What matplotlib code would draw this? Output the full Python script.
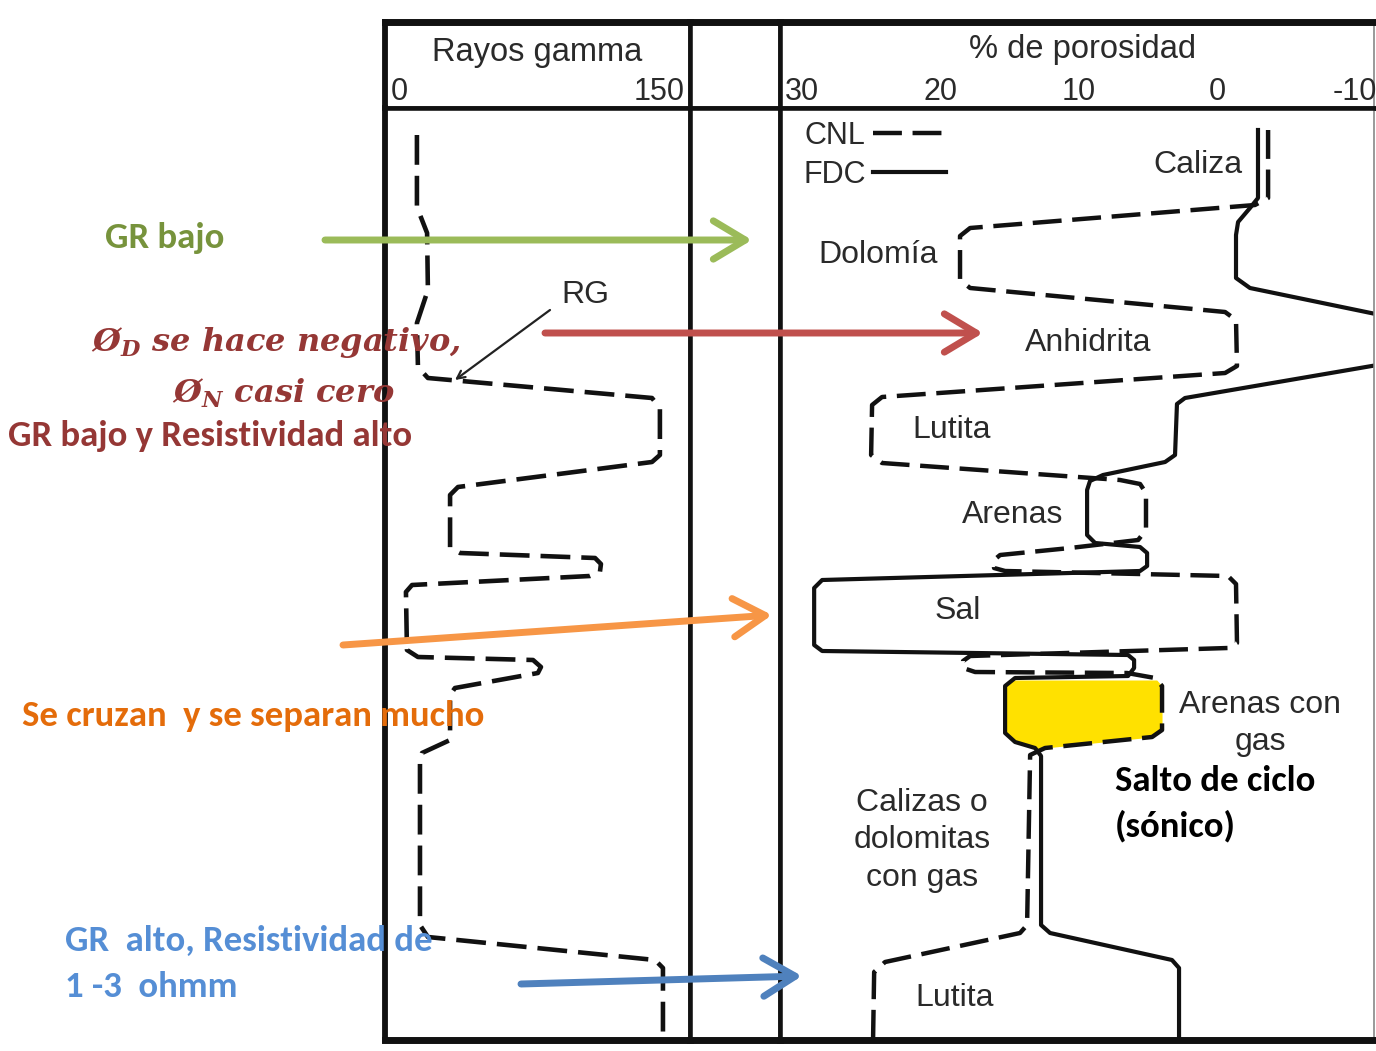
import numpy as np
import matplotlib
matplotlib.use("Agg")
import matplotlib.pyplot as plt

plt.rcParams['mathtext.fontset'] = 'custom'
plt.rcParams['mathtext.it'] = 'DejaVu Serif:italic:bold'
plt.rcParams['mathtext.rm'] = 'DejaVu Serif:bold'
plt.rcParams['mathtext.default'] = 'it'

# Rayos gamma (API) contra profundidad relativa
gr_depth = [27, 99, 125, 182, 215, 259, 270, 290, 300, 347, 354, 379, 387, 440, 445, 450,
            456, 464, 468, 477, 484, 542, 549, 552, 559, 565, 580, 587, 632, 645, 652, 817,
            829, 852, 860, 932]
gr_api = [15.7, 15.7, 20.7, 21.1, 15.7, 16.2, 21.1, 131.3, 135.2, 135.2, 131.3, 35.9, 32.0,
          32.0, 36.9, 103.3, 106.2, 105.7, 100.8, 13.3, 10.3, 10.8, 16.2, 72.8, 76.7, 75.2,
          34.4, 32.0, 32.0, 18.2, 17.2, 17.2, 21.1, 132.8, 136.7, 136.7]

# porosidad densidad (FDC) y neutron (CNL), %
fdc_depth = [22, 90, 100, 114, 127, 170, 180, 210, 254, 290, 296, 347, 354, 367, 373, 382,
             427, 435, 439, 445, 458, 463, 472, 480, 537, 543, 547, 552, 560, 568, 570, 578,
             625, 634, 640, 648, 817, 825, 852, 860, 932]
fdc_por = [-2.97, -2.97, -2.39, -1.53, -1.38, -1.38, -2.39, -12.88, -12.88, 2.31, 2.89, 3.03,
           3.75, 8.24, 9.18, 9.39, 9.39, 8.81, 5.56, 5.05, 5.05, 5.56, 28.55, 29.13, 29.13,
           28.55, 6.43, 5.99, 5.99, 6.43, 14.60, 15.32, 15.32, 14.60, 13.15, 12.72, 12.72,
           12.07, 3.25, 2.74, 2.74]
cnl_depth = [22, 90, 97, 120, 128, 172, 180, 204, 212, 258, 265, 289, 297, 347, 355, 372,
             376, 385, 422, 432, 440, 447, 452, 460, 463, 468, 476, 535, 540, 548, 553, 560,
             564, 565, 570, 578, 622, 629, 640, 647, 817, 825, 854, 864, 932]
cnl_por = [-3.70, -3.70, -2.75, 17.85, 18.58, 18.58, 17.85, -0.59, -1.38, -1.45, -0.59, 24.22,
           24.94, 25.01, 24.22, 7.01, 5.56, 5.13, 5.13, 5.70, 10.62, 15.68, 16.12, 16.12,
           15.32, -0.80, -1.38, -1.45, -0.80, 17.85, 18.36, 18.36, 17.49, 6.50, 4.48, 3.97,
           3.97, 4.69, 12.43, 13.51, 13.73, 14.24, 24.00, 24.79, 24.87]

gas_top, gas_base = 572, 641
por_ticks = [30, 20, 10, 0, -10]

W, H = 1376, 1051
fig = plt.figure(figsize=(W / 100, H / 100), dpi=100)


def box(x0, x1, y0, y1):
    return [x0 / W, 1 - y1 / H, (x1 - x0) / W, (y1 - y0) / H]


TOP, HB, BOT = 22, 108, 1040
ax_gr_h = fig.add_axes(box(385, 690, TOP, HB))
ax_mid_h = fig.add_axes(box(690, 780, TOP, HB))
ax_por_h = fig.add_axes(box(780, 1374, TOP, HB))
ax_gr = fig.add_axes(box(385, 690, HB, BOT))
ax_mid = fig.add_axes(box(690, 780, HB, BOT))
ax_por = fig.add_axes(box(780, 1374, HB, BOT))

for ax in [ax_gr_h, ax_mid_h, ax_por_h, ax_gr, ax_mid, ax_por]:
    ax.set_xticks([])
    ax.set_yticks([])
    for sp in ax.spines.values():
        sp.set_linewidth(3.3)
        sp.set_color('#111111')
for ax in [ax_gr_h, ax_mid_h, ax_por_h]:
    ax.spines['top'].set_linewidth(5)
    ax.set_ylim(0, 1)
for ax in [ax_gr, ax_mid, ax_por]:
    ax.spines['bottom'].set_linewidth(5)
    ax.set_ylim(932, 0)
ax_gr.spines['left'].set_linewidth(4.2)
ax_gr_h.spines['left'].set_linewidth(4.2)
for ax in [ax_por, ax_por_h]:
    ax.spines['right'].set_linewidth(1.2)
    ax.spines['right'].set_color('#888888')

ax_gr.set_xlim(0, 150)
ax_gr_h.set_xlim(0, 150)
ax_por.set_xlim(31.6, -11.36)
ax_por_h.set_xlim(31.6, -11.36)

scan_font = ['Liberation Sans Narrow', 'Liberation Sans']
gray = '#2a2a2a'
dash = (0, (6.5, 2.4))

ax_gr.plot(gr_api, gr_depth, color='#111111', lw=3.3, linestyle=dash)
ax_por.plot(cnl_por, cnl_depth, color='#111111', lw=3.2, linestyle=dash, label='CNL')
ax_por.plot(fdc_por, fdc_depth, color='#111111', lw=3.0, solid_joinstyle='round', label='FDC')

d = np.linspace(gas_top, gas_base, 120)
ax_por.fill_betweenx(d, np.interp(d, fdc_depth, fdc_por), np.interp(d, cnl_depth, cnl_por),
                     color='#FFE100', zorder=1, lw=0)

leg = ax_por.legend(loc='upper left', bbox_to_anchor=(803 / W, 1 - 121 / H),
                    bbox_transform=fig.transFigure, frameon=False, markerfirst=False,
                    handlelength=2.4, handletextpad=0.25, labelspacing=0.3,
                    borderpad=0, borderaxespad=0,
                    prop={'family': scan_font, 'size': 22})
for t in leg.get_texts():
    t.set_color(gray)

# encabezados
ax_gr_h.text(0.5, 0.64, 'Rayos gamma', transform=ax_gr_h.transAxes, ha='center', va='center',
             fontsize=23.5, family=scan_font, color=gray)
ax_gr_h.text(3, 0.19, '0', ha='left', va='center', fontsize=22, family=scan_font, color=gray)
ax_gr_h.text(147.5, 0.19, '150', ha='right', va='center', fontsize=22, family=scan_font, color=gray)
ax_por_h.text(0.51, 0.68, '% de porosidad', transform=ax_por_h.transAxes, ha='center',
              va='center', fontsize=23.5, family=scan_font, color=gray)
for v in por_ticks:
    ax_por_h.text(v, 0.19, str(v), ha='center', va='center', fontsize=22, family=scan_font,
                  color=gray)

# capa de anotaciones
ov = fig.add_axes([0, 0, 1, 1])
ov.set_xlim(0, W)
ov.set_ylim(H, 0)
ov.axis('off')
ov.patch.set_alpha(0)

lith = [('Caliza', 1198, 165), ('Dolomía', 878, 255), ('Anhidrita', 1088, 343),
        ('Lutita', 952, 430), ('Arenas', 1013, 515), ('Sal', 958, 611),
        ('Arenas con', 1260, 705), ('gas', 1260, 742), ('Calizas o', 922, 803),
        ('dolomitas', 922, 840), ('con gas', 922, 878), ('Lutita', 955, 998), ('RG', 585, 295)]
for name, x, y in lith:
    ov.text(x, y, name, ha='center', va='center', fontsize=23, family=scan_font, color=gray)
ov.annotate('', xy=(455, 380), xytext=(550, 310),
            arrowprops=dict(arrowstyle='->', lw=1.6, color='#222222', mutation_scale=14,
                            shrinkA=0, shrinkB=0))

notes = ['Carlito', 'Lato']
arrows = [((325, 240), (752, 240), '#9BBB59'), ((545, 333), (983, 333), '#C0504D'),
          ((343, 645), (772, 615), '#F79646'), ((521, 984), (802, 976), '#4F81BD')]
for (x0, y0), (x1, y1), c in arrows:
    ov.annotate('', xy=(x1, y1), xytext=(x0, y0),
                arrowprops=dict(arrowstyle='->,head_length=1.0,head_width=0.6', lw=5,
                                color=c, mutation_scale=23, shrinkA=0, shrinkB=0))

fs = 26.5
ov.text(105, 238, 'GR bajo', ha='left', va='center', fontsize=fs, weight='bold',
        family=notes, color='#77933C')
ov.text(276, 343, r'Ø$_D$ se hace negativo,', ha='center', va='center', fontsize=23,
        family='DejaVu Serif', style='italic', weight='bold', color='#953735')
ov.text(283, 393, r'Ø$_N$ casi cero', ha='center', va='center', fontsize=23,
        family='DejaVu Serif', style='italic', weight='bold', color='#953735')
ov.text(8, 436, 'GR bajo y Resistividad alto', ha='left', va='center', fontsize=fs,
        weight='bold', family=notes, color='#953735')
ov.text(22, 716, 'Se cruzan  y se separan mucho', ha='left', va='center', fontsize=fs,
        weight='bold', family=notes, color='#E46C0A')
ov.text(65, 941, 'GR  alto, Resistividad de', ha='left', va='center', fontsize=fs,
        weight='bold', family=notes, color='#558ED5')
ov.text(65, 987, '1 -3  ohmm', ha='left', va='center', fontsize=fs,
        weight='bold', family=notes, color='#558ED5')
ov.text(1115, 781, 'Salto de ciclo', ha='left', va='center', fontsize=fs,
        weight='bold', family=notes, color='black')
ov.text(1115, 826, '(sónico)', ha='left', va='center', fontsize=fs,
        weight='bold', family=notes, color='black')

fig.savefig('out.png', dpi=100)
